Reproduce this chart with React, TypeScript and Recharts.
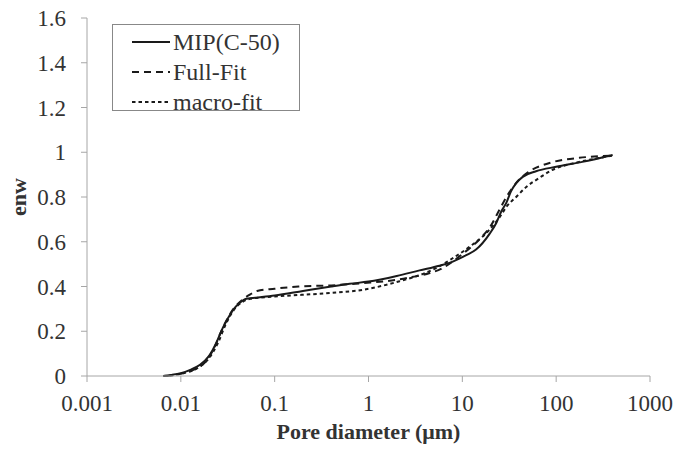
import React from "react";
import { LineChart, Line, XAxis, YAxis, Legend } from "recharts";

const xTicks = [0.001, 0.01, 0.1, 1, 10, 100, 1000];
const yTicks = [0, 0.2, 0.4, 0.6, 0.8, 1, 1.2, 1.4, 1.6];
const seriesOrder = ["MIP(C-50)", "Full-Fit", "macro-fit"];

const mipX = [0.0065, 0.008, 0.01, 0.013, 0.016, 0.02, 0.024, 0.028, 0.032, 0.036, 0.042, 0.05, 0.07, 0.1, 0.2, 0.4, 0.63, 1, 2, 3.5, 5.7, 7.8, 11, 14, 19.5, 23, 26, 29.5, 33, 37.5, 44, 61, 100, 190, 400];
const mipY = [0, 0.005, 0.013, 0.03, 0.05, 0.09, 0.15, 0.215, 0.26, 0.295, 0.325, 0.345, 0.352, 0.36, 0.38, 0.4, 0.412, 0.422, 0.447, 0.472, 0.493, 0.51, 0.54, 0.565, 0.635, 0.684, 0.735, 0.775, 0.825, 0.862, 0.89, 0.915, 0.935, 0.957, 0.988];

const fullX = [0.007, 0.01, 0.014, 0.018, 0.022, 0.028, 0.035, 0.045, 0.055, 0.065, 0.1, 0.18, 0.4, 0.86, 2, 2.9, 4.5, 6, 10, 15, 20, 25, 30, 37, 50, 85, 176, 400];
const fullY = [0, 0.01, 0.03, 0.06, 0.115, 0.215, 0.29, 0.34, 0.365, 0.38, 0.39, 0.4, 0.405, 0.415, 0.43, 0.442, 0.46, 0.48, 0.545, 0.608, 0.67, 0.745, 0.805, 0.86, 0.91, 0.952, 0.975, 0.985];

const macroX = [0.0065, 0.01, 0.015, 0.02, 0.025, 0.03, 0.036, 0.045, 0.055, 0.1, 0.385, 0.86, 2, 4, 5.7, 7.8, 11.9, 19.4, 25, 30, 37.5, 48, 66, 90, 150, 250, 400];
const macroY = [0, 0.01, 0.035, 0.08, 0.15, 0.23, 0.29, 0.33, 0.345, 0.355, 0.371, 0.385, 0.42, 0.46, 0.49, 0.525, 0.577, 0.653, 0.71, 0.76, 0.8, 0.845, 0.885, 0.92, 0.95, 0.97, 0.985];

const zip = (xs: number[], ys: number[]) => xs.map((x, i) => ({ x, y: ys[i] }));
const mipData = zip(mipX, mipY);
const fullData = zip(fullX, fullY);
const macroData = zip(macroX, macroY);

const FONT = "Liberation Serif, Times New Roman, serif";
const TEXT = "#333333";
const AXIS = "#a6a6a6";
const LINE = "#1a1a1a";

const XTick = (props: any) => (
  <text x={props.x} y={props.y} dy="0.71em" textAnchor="middle" fill={TEXT} fontSize={23} fontFamily={FONT}>
    {String(props.payload.value)}
  </text>
);

const YTick = (props: any) => (
  <text x={props.x} y={props.y} dy="0.355em" textAnchor="end" fill={TEXT} fontSize={23} fontFamily={FONT}>
    {String(props.payload.value)}
  </text>
);

const LegendBox = (props: any) => {
  const payload = [...(props.payload || [])].sort(
    (a: any, b: any) => seriesOrder.indexOf(a.value) - seriesOrder.indexOf(b.value)
  );
  return (
    <div style={{ paddingTop: 2 }}>
      {payload.map((p: any, i: number) => (
        <div key={i} style={{ display: "flex", alignItems: "center", height: 30 }}>
          <svg width={41} height={10} style={{ marginLeft: 19 }}>
            <line x1={0} y1={5} x2={38} y2={5} stroke={LINE} strokeWidth={2} strokeDasharray={p.payload.strokeDasharray} />
          </svg>
          <span style={{ fontFamily: FONT, fontSize: 24, color: TEXT, lineHeight: "30px" }}>{p.value}</span>
        </div>
      ))}
    </div>
  );
};

export default function App() {
  return (
    <div style={{ position: "absolute", left: 0, top: 0, background: "#fff", fontFamily: FONT }}>
      <LineChart width={691} height={453} margin={{ top: 18, right: 41, bottom: 47, left: 0 }}>
        <XAxis
          dataKey="x"
          type="number"
          scale="log"
          domain={[0.001, 1000]}
          ticks={xTicks}
          allowDataOverflow
          height={30}
          stroke={AXIS}
          tickLine={{ stroke: AXIS }}
          tickSize={6}
          tickMargin={13}
          tick={<XTick />}
          label={{ value: "Pore diameter (\u03bcm)", position: "bottom", offset: 17, style: { fill: TEXT, fontSize: 22, fontWeight: "bold", fontFamily: FONT } }}
        />
        <YAxis
          type="number"
          domain={[0, 1.6]}
          ticks={yTicks}
          width={87}
          stroke={AXIS}
          tickLine={{ stroke: AXIS }}
          tickSize={6}
          tickMargin={15}
          tick={<YTick />}
          label={{ value: "enw", angle: -90, position: "insideLeft", offset: 18, style: { fill: TEXT, fontSize: 22, fontWeight: "bold", fontFamily: FONT, textAnchor: "middle" } }}
        />
        <Legend
          layout="vertical"
          align="center"
          verticalAlign="middle"
          content={<LegendBox />}
          wrapperStyle={{ position: "absolute", left: 112, top: 24, width: 188, height: 87, border: "1px solid #888", boxSizing: "border-box", background: "#fff" }}
        />
        <Line data={mipData} dataKey="y" name="MIP(C-50)" type="monotone" stroke={LINE} strokeWidth={2} dot={false} isAnimationActive={false} />
        <Line data={fullData} dataKey="y" name="Full-Fit" type="monotone" stroke={LINE} strokeWidth={2} strokeDasharray="7 5" dot={false} isAnimationActive={false} />
        <Line data={macroData} dataKey="y" name="macro-fit" type="monotone" stroke={LINE} strokeWidth={2} strokeDasharray="3.5 3" dot={false} isAnimationActive={false} />
      </LineChart>
    </div>
  );
}
